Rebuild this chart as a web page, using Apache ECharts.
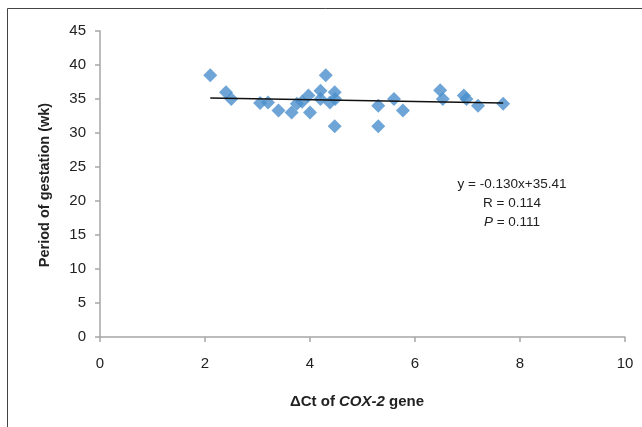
<!DOCTYPE html>
<html>
<head>
<meta charset="utf-8">
<script src="https://cdn.jsdelivr.net/npm/echarts@6/dist/echarts.min.js"></script>
<style>html,body{margin:0;padding:0;background:#fff}#c{width:642px;height:427px}</style>
</head>
<body>
<div id="c"></div>
<script>
var deltaCt = [2.1, 2.4, 2.5, 3.05, 3.2, 3.4, 3.65, 3.75, 3.85, 4.0, 3.97, 4.2, 4.2, 4.3, 4.38, 4.47, 4.48, 4.47, 5.3, 5.3, 5.6, 5.77, 6.48, 6.53, 6.93, 6.98, 7.2, 7.68];
var gestation = [38.5, 36.0, 35.0, 34.4, 34.5, 33.3, 33.0, 34.3, 34.6, 33.0, 35.5, 36.2, 35.0, 38.5, 34.5, 36.0, 35.0, 31.0, 34.0, 31.0, 35.0, 33.3, 36.3, 35.0, 35.5, 35.0, 34.0, 34.3];
var slope = -0.130;
var intercept = 35.41;
var xTicks = [0, 2, 4, 6, 8, 10];
var yTicks = [0, 5, 10, 15, 20, 25, 30, 35, 40, 45];

var pts = deltaCt.map(function (x, i) { return [x, gestation[i]]; });
var xmin = Math.min.apply(null, deltaCt), xmax = Math.max.apply(null, deltaCt);
var trend = [[xmin, slope * xmin + intercept], [xmax, slope * xmax + intercept]];

var chart = echarts.init(document.getElementById('c'), null, {renderer: 'canvas'});
var font = 'Liberation Sans, Arial, sans-serif';
var axisColor = '#a6a6a6';
chart.setOption({
  animation: false,
  backgroundColor: '#fff',
  grid: {left: 100, right: 17, top: 31, bottom: 90},
  xAxis: {
    type: 'value', min: xTicks[0], max: xTicks[xTicks.length - 1], interval: 2,
    splitLine: {show: false},
    axisLine: {show: true, lineStyle: {color: axisColor, width: 1.5}},
    axisTick: {show: true, length: 5, lineStyle: {color: axisColor, width: 1.5}},
    axisLabel: {color: '#222', fontSize: 15, fontFamily: font, margin: 19}
  },
  yAxis: {
    type: 'value', min: yTicks[0], max: yTicks[yTicks.length - 1], interval: 5,
    splitLine: {show: false},
    axisLine: {show: true, lineStyle: {color: axisColor, width: 1.5}},
    axisTick: {show: true, length: 5, lineStyle: {color: axisColor, width: 1.5}},
    axisLabel: {color: '#222', fontSize: 15, fontFamily: font, margin: 14}
  },
  series: [
    {
      type: 'scatter', data: pts, symbol: 'diamond', symbolSize: 14,
      itemStyle: {color: '#4a8fcc'}, z: 2
    },
    {
      type: 'line', data: trend, symbol: 'none',
      lineStyle: {color: '#111', width: 1.5}, z: 3
    }
  ],
  graphic: [
    {type: 'rect', shape: {x: 7.5, y: 8.5, width: 700, height: 500}, style: {fill: null, stroke: '#444', lineWidth: 1}, silent: true},
    {type: 'text', x: 357, y: 402, style: {
      text: '{a|ΔCt of }{b|COX-2}{a| gene}', align: 'center', verticalAlign: 'middle',
      rich: {a: {fontSize: 15, fontWeight: 'bold', fontFamily: font, fill: '#222'},
             b: {fontSize: 15, fontWeight: 'bold', fontStyle: 'italic', fontFamily: font, fill: '#222'}}
    }},
    {type: 'text', rotation: Math.PI / 2, x: 45, y: 185, style: {
      text: 'Period of gestation (wk)', align: 'center', verticalAlign: 'middle',
      font: 'bold 14.5px ' + font, fill: '#222'
    }},
    {type: 'text', x: 512, y: 184, style: {text: 'y = -0.130x+35.41', align: 'center', verticalAlign: 'middle', font: '13.5px ' + font, fill: '#222'}},
    {type: 'text', x: 512, y: 203, style: {text: 'R = 0.114', align: 'center', verticalAlign: 'middle', font: '13.5px ' + font, fill: '#222'}},
    {type: 'text', x: 512, y: 222, style: {
      text: '{i|P}{n| = 0.111}', align: 'center', verticalAlign: 'middle',
      rich: {i: {fontSize: 13.5, fontStyle: 'italic', fontFamily: font, fill: '#222'},
             n: {fontSize: 13.5, fontFamily: font, fill: '#222'}}
    }}
  ]
});
</script>
</body>
</html>
